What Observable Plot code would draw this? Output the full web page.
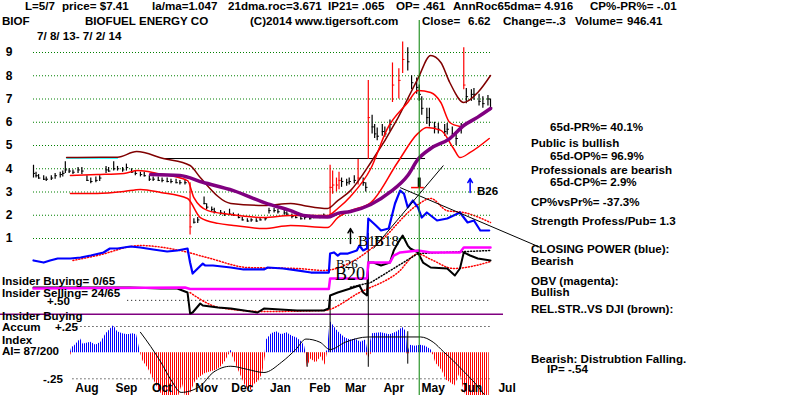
<!DOCTYPE html>
<html><head><meta charset="utf-8">
<script src="https://cdn.jsdelivr.net/npm/d3@7"></script>
<script src="https://cdn.jsdelivr.net/npm/@observablehq/plot@0.6"></script>
<style>
body{margin:0;background:#fff;}
#chart{position:relative;width:800px;height:395px;overflow:hidden;background:#fff;}
#chart svg{position:absolute;left:0;top:0;}
.t{position:absolute;font:bold 11.6px "Liberation Sans",Arial,sans-serif;line-height:12px;white-space:pre;color:#000;}
.s{position:absolute;font-family:"Liberation Serif","Times New Roman",serif;line-height:1;white-space:pre;color:#000;}
</style></head>
<body><div id="chart"></div>
<script>
// ---------- DATA ----------
const startDate = "2013-07-08", endDate = "2014-07-02";
const priceTicks = [1,2,3,4,5,6,7,8,9];
const monthNames = ["Aug","Sep","Oct","Nov","Dec","Jan","Feb","Mar","Apr","May","Jun","Jul"];
const monthLabelDates = ["2013-08-19","2013-09-19","2013-10-17","2013-11-21","2013-12-19","2014-01-18","2014-02-18","2014-03-18","2014-04-17","2014-05-18","2014-06-17","2014-07-15"];

// price bars: [date, low, high, close]
const bars = [
["2013-07-08",3.6,4.15,3.8],["2013-07-10",3.6,3.85,3.7],["2013-07-12",3.55,3.75,3.6],["2013-07-16",3.5,3.7,3.55],["2013-07-18",3.45,3.65,3.55],["2013-07-22",3.5,3.7,3.6],["2013-07-25",3.55,3.8,3.7],["2013-07-29",3.6,3.85,3.75],["2013-07-31",3.65,3.9,3.8],
["2013-08-02",3.8,4.3,3.95],["2013-08-05",3.8,4.0,3.9],["2013-08-08",3.75,3.95,3.85],["2013-08-12",3.8,4.05,3.95],["2013-08-15",3.75,4.05,3.9],["2013-08-19",3.45,3.7,3.5],["2013-08-22",3.35,3.6,3.45],["2013-08-26",3.4,3.65,3.5],["2013-08-29",3.45,3.7,3.6],
["2013-09-03",3.8,4.1,3.95],["2013-09-05",3.85,4.05,3.9],["2013-09-09",3.9,4.3,4.0],["2013-09-12",3.9,4.1,4.0],["2013-09-16",3.85,4.05,3.95],["2013-09-19",3.9,4.2,4.05],["2013-09-23",3.8,4.0,3.85],["2013-09-26",3.7,3.9,3.8],["2013-09-30",3.65,3.85,3.75],
["2013-10-03",3.65,3.85,3.7],["2013-10-07",3.45,3.7,3.55],["2013-10-10",3.45,3.65,3.55],["2013-10-14",3.45,3.65,3.5],["2013-10-17",3.4,3.6,3.5],["2013-10-21",3.4,3.6,3.45],["2013-10-24",3.35,3.55,3.45],["2013-10-28",3.35,3.55,3.4],["2013-10-31",3.3,3.5,3.4],
["2013-11-04",3.3,3.55,3.4],["2013-11-08",1.15,3.4,1.5],["2013-11-11",1.62,1.85,1.7],["2013-11-14",1.65,1.9,1.8],["2013-11-19",2.45,2.78,2.5],["2013-11-21",2.25,2.5,2.35],["2013-11-25",2.15,2.35,2.25],["2013-11-27",2.05,2.3,2.15],
["2013-12-02",2.0,2.2,2.1],["2013-12-05",1.95,2.15,2.05],["2013-12-09",1.98,2.26,2.05],["2013-12-12",1.95,2.1,2.0],["2013-12-16",1.85,2.05,1.9],["2013-12-19",1.75,1.9,1.8],["2013-12-23",1.7,1.85,1.75],["2013-12-26",1.7,1.85,1.8],["2013-12-30",1.7,1.85,1.75],
["2014-01-02",1.75,1.9,1.8],["2014-01-06",1.75,1.9,1.85],["2014-01-09",2.05,2.3,2.2],["2014-01-13",2.1,2.3,2.2],["2014-01-16",2.05,2.25,2.15],["2014-01-21",2.0,2.2,2.1],["2014-01-23",1.95,2.15,2.05],["2014-01-27",1.85,2.05,1.95],["2014-01-30",1.85,2.0,1.9],
["2014-02-03",1.8,1.95,1.85],["2014-02-06",1.8,1.95,1.9],["2014-02-10",1.8,1.95,1.85],["2014-02-13",1.85,2.0,1.9],["2014-02-18",1.85,2.0,1.95],["2014-02-21",1.9,2.05,2.0],["2014-02-26",2.0,4.15,3.2],["2014-02-28",2.9,3.9,3.3],
["2014-03-03",3.0,3.6,3.3],["2014-03-05",3.1,3.85,3.5],["2014-03-07",3.2,3.6,3.45],["2014-03-11",3.25,3.55,3.4],["2014-03-13",3.3,3.6,3.45],["2014-03-17",3.35,3.7,3.5],["2014-03-20",3.3,4.4,3.6],["2014-03-24",3.25,3.6,3.4],["2014-03-26",3.0,3.4,3.2],["2014-03-28",4.4,7.8,6.2],["2014-03-31",5.5,6.3,5.8],
["2014-04-02",5.3,5.9,5.5],["2014-04-04",5.2,5.75,5.4],["2014-04-08",5.4,5.9,5.6],["2014-04-10",5.35,5.8,5.5],["2014-04-14",5.6,6.1,5.9],["2014-04-16",6.85,8.55,7.6],["2014-04-21",7.0,8.3,7.8],["2014-04-24",8.1,9.45,8.7],["2014-04-28",8.2,9.2,8.6],
["2014-05-01",7.4,8.0,7.7],["2014-05-05",7.2,7.9,7.5],["2014-05-07",6.9,7.6,7.2],["2014-05-09",6.3,7.1,6.6],["2014-05-13",5.9,6.6,6.2],["2014-05-15",5.8,6.6,6.0],["2014-05-19",5.5,6.0,5.8],["2014-05-22",5.5,5.95,5.7],["2014-05-27",5.4,5.9,5.6],["2014-05-29",5.45,5.95,5.7],
["2014-06-02",5.3,5.8,5.5],["2014-06-05",5.0,5.6,5.3],["2014-06-09",5.5,5.95,5.8],["2014-06-11",7.4,9.2,7.6],["2014-06-13",6.8,7.45,7.1],["2014-06-17",6.9,7.4,7.2],["2014-06-19",6.95,7.45,7.2],["2014-06-23",6.7,7.2,6.9],["2014-06-26",6.6,7.1,6.8],["2014-06-30",6.7,7.15,7.0],["2014-07-02",6.5,7.0,6.62]
];

const ma65 = [["2013-10-08",3.75],["2013-10-31",3.71],["2013-11-18",3.42],["2013-12-12",3.06],["2014-01-08",2.49],["2014-01-26",2.2],["2014-02-05",1.99],["2014-02-24",1.92],["2014-03-04",2.08],["2014-03-14",2.16],["2014-03-30",2.46],["2014-04-14",2.99],["2014-04-28",3.71],["2014-05-06",4.4],["2014-05-16",4.87],["2014-05-31",5.3],["2014-06-11",5.86],["2014-06-22",6.22],["2014-07-02",6.59]];
const bandDark = [["2013-08-03",4.48],["2013-08-30",4.5],["2013-09-12",4.5],["2013-09-27",4.74],["2013-10-18",4.44],["2013-11-08",4.14],["2013-11-16",3.62],["2013-12-10",2.51],["2014-01-05",2.42],["2014-01-26",2.51],["2014-02-05",2.42],["2014-02-24",2.29],["2014-03-04",2.63],["2014-03-14",3.06],["2014-03-30",4.27],["2014-04-20",6.16],["2014-05-06",7.88],["2014-05-16",8.87],["2014-05-24",8.57],["2014-05-31",7.71],["2014-06-11",6.85],["2014-06-22",7.28],["2014-07-02",8.01]];
const bandUpper = [["2013-08-06",3.71],["2013-08-27",3.75],["2013-09-17",3.8],["2013-09-28",3.92],["2013-10-13",3.8],["2013-11-06",3.49],["2013-11-11",2.76],["2013-11-22",2.2],["2013-12-10",2.03],["2014-01-05",1.9],["2014-01-26",1.99],["2014-02-24",1.99],["2014-03-04",2.29],["2014-03-14",2.81],["2014-03-30",4.01],["2014-04-12",5.73],["2014-04-28",6.85],["2014-05-06",7.37],["2014-05-16",7.28],["2014-05-24",6.85],["2014-05-31",5.99],["2014-06-08",5.82]];
const bandLower = [["2013-08-06",2.94],["2013-08-27",2.94],["2013-09-17",3.02],["2013-09-30",3.11],["2013-10-16",2.98],["2013-11-06",2.72],["2013-11-16",1.9],["2013-11-30",1.65],["2013-12-12",1.56],["2014-01-05",1.43],["2014-01-26",1.56],["2014-02-24",1.47],["2014-03-04",1.9],["2014-03-14",2.2],["2014-03-30",2.55],["2014-04-20",4.27],["2014-05-06",5.52],["2014-05-13",5.77],["2014-05-24",5.65],["2014-06-03",4.87],["2014-06-08",4.48],["2014-06-16",4.7],["2014-07-01",5.3]];
const cyanSeg = [["2013-08-03",4.45],["2013-09-12",4.45]];
const resistance = [{from:"2013-10-18", to:"2014-05-12", v:4.44}];
const trendLines = [{a:"2014-04-22", va:3.19, b:"2014-08-10", vb:0.62},{a:"2014-04-01", va:0.57, b:"2014-05-26", vb:4.14}];
const markerDate = ["2014-05-07"];
const markerBar = [{d:"2014-05-07", lo:3.15, hi:3.6}];
const markerTick = [{from:"2014-05-01", to:"2014-05-11", v:3.19}];
const blueSignals = [{d:"2014-06-16", from:2.98, to:3.58}];
const blackSignals = [{d:"2014-03-14", from:0.78, to:1.43}];

// indicator panel (arbitrary index units)
const closingPower = [["2013-07-08",66.7],["2013-07-16",64.4],["2013-07-21",66.7],["2013-07-27",68.9],["2013-08-06",68.9],["2013-08-14",70],["2013-08-22",72.2],["2013-09-01",75.6],["2013-09-06",80],["2013-09-12",80],["2013-09-22",82.2],["2013-09-30",81.1],["2013-10-10",78.9],["2013-10-21",76.7],["2013-10-29",77.8],["2013-11-06",80],["2013-11-08",64.4],["2013-11-10",52.2],["2013-11-14",57.8],["2013-11-18",63.3],["2013-11-20",61.1],["2013-11-26",61.1],["2013-12-10",58.9],["2013-12-20",56.7],["2014-01-05",56.7],["2014-01-08",58.9],["2014-01-20",57.8],["2014-01-31",55.6],["2014-02-11",53.3],["2014-02-25",53.3],["2014-02-26",74.4],["2014-03-01",75.6],["2014-03-04",72.2],["2014-03-06",74.4],["2014-03-12",74.4],["2014-03-19",77.8],["2014-03-21",83.3],["2014-03-24",77.8],["2014-03-27",80],["2014-03-28",113.3],["2014-04-03",105.6],["2014-04-07",100],["2014-04-13",102.2],["2014-04-18",130],["2014-04-22",144.4],["2014-04-25",141.1],["2014-04-28",125.6],["2014-05-02",133.3],["2014-05-06",125.6],["2014-05-09",114.4],["2014-05-13",120],["2014-05-21",111.1],["2014-05-29",113.3],["2014-06-08",120],["2014-06-14",108.9],["2014-06-19",111.1],["2014-06-24",100],["2014-07-01",100]];
const closingPowerMA = [["2013-08-08",66.7],["2013-08-27",72.2],["2013-09-30",83.3],["2013-10-31",77.8],["2013-11-24",68.9],["2013-12-23",58.9],["2014-01-31",57.8],["2014-02-21",55.6],["2014-03-14",64.4],["2014-04-07",88.9],["2014-05-05",127.8],["2014-05-16",135.6],["2014-05-29",122],["2014-06-11",120],["2014-07-02",108.9]];
const obv = [["2013-07-08",35.6],["2013-11-04",36.7],["2013-11-08",35],["2014-02-25",35],["2014-02-26",46.7],["2014-03-27",46.7],["2014-03-28",64.4],["2014-04-14",64.4],["2014-04-17",72.2],["2014-04-22",75.6],["2014-05-06",77.8],["2014-05-16",75.6],["2014-06-08",75.6],["2014-06-11",81.1],["2014-07-02",81.1]];
const relStrength = [["2013-07-08",36.7],["2013-09-22",36.7],["2013-10-16",35.6],["2013-10-29",35.6],["2013-11-06",31.1],["2013-11-08",7.8],["2013-11-10",8.9],["2013-11-16",18.9],["2013-11-18",16.7],["2013-11-30",14.4],["2013-12-10",13.3],["2013-12-31",8.9],["2014-01-05",13.3],["2014-01-31",11.1],["2014-02-21",11.1],["2014-02-25",13.3],["2014-02-26",27.8],["2014-03-04",31.1],["2014-03-14",35.6],["2014-03-21",38.9],["2014-03-24",31.1],["2014-03-27",27.8],["2014-03-28",64.4],["2014-04-01",64.4],["2014-04-07",61.1],["2014-04-14",64.4],["2014-04-17",77.8],["2014-04-20",85.6],["2014-04-24",94.4],["2014-04-28",83.3],["2014-04-30",80],["2014-05-06",75.6],["2014-05-10",64.4],["2014-05-16",58.9],["2014-05-29",57.8],["2014-06-04",50],["2014-06-08",57.8],["2014-06-11",75.6],["2014-06-16",72.2],["2014-06-22",68.9],["2014-07-02",66.7]];
const relStrengthMA = [["2013-11-08",31],["2013-12-01",14.4],["2014-01-05",10],["2014-02-21",11.1],["2014-03-21",31],["2014-04-20",53],["2014-05-06",74],["2014-05-16",68],["2014-06-03",57.8],["2014-07-02",65.5]];
const obvTrend = [["2014-03-14",37],["2014-03-30",42.2],["2014-05-06",74.4],["2014-07-02",77.8]];

// Accumulation index
const insiderLevel = [0.368];
const aiRefLines = [{v:0.5, from:"2013-09-20"},{v:0.25, from:"2013-08-08"},{v:-0.25, from:"2013-08-08"}];
const accum = [["2013-08-06",-0.03],["2013-08-07",0.05],["2013-08-09",0.06],["2013-08-14",0.13],["2013-08-16",0.08],["2013-08-22",0.1],["2013-08-26",0.07],["2013-08-30",0.1],["2013-09-03",0.18],["2013-09-06",0.22],["2013-09-09",0.26],["2013-09-12",0.2],["2013-09-16",0.18],["2013-09-20",0.17],["2013-09-24",0.18],["2013-09-27",0.17],["2013-09-30",0.0],["2013-10-02",-0.08],["2013-10-06",-0.15],["2013-10-10",-0.25],["2013-10-15",-0.37],["2013-10-20",-0.45],["2013-10-25",-0.5],["2013-10-30",-0.42],["2013-11-02",-0.3],["2013-11-05",-0.45],["2013-11-08",-0.4],["2013-11-12",-0.28],["2013-11-15",-0.24],["2013-11-20",-0.2],["2013-11-25",-0.18],["2013-11-28",-0.17],["2013-12-02",-0.14],["2013-12-06",-0.08],["2013-12-08",-0.03],["2013-12-10",0.02],["2013-12-12",-0.05],["2013-12-15",-0.14],["2013-12-19",-0.25],["2013-12-22",-0.33],["2013-12-26",-0.36],["2013-12-29",-0.3],["2014-01-01",-0.27],["2014-01-04",-0.2],["2014-01-06",-0.05],["2014-01-07",0.12],["2014-01-11",0.18],["2014-01-15",0.2],["2014-01-19",0.17],["2014-01-23",0.19],["2014-01-27",0.16],["2014-01-31",0.14],["2014-02-04",0.1],["2014-02-06",0.06],["2014-02-07",-0.02],["2014-02-08",-0.14],["2014-02-11",-0.06],["2014-02-15",-0.1],["2014-02-19",-0.04],["2014-02-22",-0.12],["2014-02-24",0.02],["2014-02-26",0.3],["2014-02-28",0.27],["2014-03-03",0.22],["2014-03-06",0.18],["2014-03-10",0.14],["2014-03-14",0.12],["2014-03-18",0.13],["2014-03-22",0.1],["2014-03-26",0.12],["2014-03-28",-0.05],["2014-03-31",0.18],["2014-04-07",0.19],["2014-04-14",0.17],["2014-04-20",0.2],["2014-04-24",0.24],["2014-04-27",0.2],["2014-04-28",-0.02],["2014-04-30",0.07],["2014-05-04",0.06],["2014-05-08",0.07],["2014-05-12",0.06],["2014-05-16",0.03],["2014-05-18",-0.02],["2014-05-20",-0.1],["2014-05-25",-0.17],["2014-05-28",-0.26],["2014-06-01",-0.29],["2014-06-04",-0.32],["2014-06-08",-0.2],["2014-06-11",-0.35],["2014-06-15",-0.5],["2014-07-01",-0.5]];
const accumMA = [["2013-09-30",0.195],["2013-10-08",0.06],["2013-10-16",-0.09],["2013-10-24",-0.26],["2013-11-01",-0.38],["2013-11-16",-0.32],["2013-11-26",-0.19],["2013-12-10",-0.13],["2013-12-23",-0.16],["2014-01-05",-0.19],["2014-01-19",-0.09],["2014-01-30",0.03],["2014-02-07",0.13],["2014-02-18",0.1],["2014-02-26",0.03],["2014-03-10",0.1],["2014-03-28",0.15],["2014-04-27",0.15],["2014-05-08",0.15],["2014-05-18",0.1],["2014-05-26",0.01],["2014-06-03",-0.08],["2014-06-11",-0.18],["2014-06-19",-0.28],["2014-06-27",-0.4]];
const accumSpikes = [{d:"2014-02-26", lo:0, hi:0.54},{d:"2014-03-28", lo:-0.14, hi:1.14},{d:"2014-04-28", lo:-0.11, hi:0.2},{d:"2014-02-08", lo:-0.14, hi:0}];

// ---------- BUILD ----------
const parse = d3.utcParse("%Y-%m-%d");
const X = {type:"utc", domain:[parse(startDate), parse(endDate)], range:[33,490], axis:null};
const ser = a => a.map(([d,v]) => ({date: parse(d), v}));
const barRows = bars.map(([d,lo,hi,c]) => ({date: parse(d), lo, hi, c}));
const barColor = r => (r.hi / r.lo > 1.16 ? "#ff0000" : "#000000");
const svgStyle = {background:"transparent", overflow:"visible", font:"bold 12px 'Liberation Sans', Arial, sans-serif"};
const chart = document.getElementById("chart");

// AI panel (bottom layer)
const aiPlot = Plot.plot({
  width:800, height:395, marginTop:0, marginBottom:0, marginLeft:0, marginRight:297,
  x: X, y:{domain:[-0.25,0.25], range:[378.3,326], axis:null},
  color:{type:"identity"}, style: svgStyle,
  marks:[
    Plot.ruleY(insiderLevel, {stroke:"#800080", strokeWidth:1.5}),
    Plot.ruleY(aiRefLines, {y:"v", x1:d=>parse(d.from), x2:()=>parse(endDate), stroke:"#000", strokeDasharray:"1,3"}),
    Plot.areaY(ser(accum), {x:"date", y1:0, y2:d=>Math.max(0,d.v), fill:"url(#aiBlue)"}),
    Plot.areaY(ser(accum), {x:"date", y1:0, y2:d=>Math.min(0,d.v), fill:"url(#aiRed)"}),
    Plot.ruleX(accumSpikes, {x:d=>parse(d.d), y1:"lo", y2:"hi", stroke:"#000"}),
    Plot.line(ser(accumMA), {x:"date", y:"v", stroke:"#000", strokeWidth:1, curve:"monotone-x"}),
    Plot.text(monthNames, {x:(d,i)=>parse(monthLabelDates[i]), text:d=>d, frameAnchor:"bottom", lineAnchor:"bottom", dy:-4, fontSize:12, fontWeight:"bold"})
  ]
});
const ns = "http://www.w3.org/2000/svg";
const defs = document.createElementNS(ns, "defs");
defs.innerHTML = '<pattern id="aiBlue" patternUnits="userSpaceOnUse" width="2" height="4"><rect width="1" height="4" fill="#0000ff"/></pattern>' +
                 '<pattern id="aiRed" patternUnits="userSpaceOnUse" width="2" height="4"><rect width="1" height="4" fill="#ff0000"/></pattern>';
aiPlot.insertBefore(defs, aiPlot.firstChild);
chart.appendChild(aiPlot);

// Indicator panel
const indPlot = Plot.plot({
  width:800, height:395, margin:0,
  x: X, y:{domain:[0,100], range:[320,230], axis:null},
  style: svgStyle,
  marks:[
    Plot.line(ser(closingPowerMA), {x:"date", y:"v", stroke:"#ff0000", strokeDasharray:"1,2", curve:"monotone-x"}),
    Plot.line(ser(relStrengthMA), {x:"date", y:"v", stroke:"#ff0000", strokeDasharray:"1,2", curve:"monotone-x"}),
    Plot.line(ser(obvTrend), {x:"date", y:"v", stroke:"#000", strokeDasharray:"1,2"}),
    Plot.line(ser(relStrength), {x:"date", y:"v", stroke:"#000", strokeWidth:2}),
    Plot.line(ser(obv), {x:"date", y:"v", stroke:"#ff00ff", strokeWidth:2.5}),
    Plot.line(ser(closingPower), {x:"date", y:"v", stroke:"#0000ff", strokeWidth:2.2})
  ]
});
chart.appendChild(indPlot);

// Price panel (top layer)
const pricePlot = Plot.plot({
  width:800, height:395, marginTop:20, marginBottom:0, marginLeft:33, marginRight:310,
  x: X, y:{domain:[1,9], range:[238,52], axis:null},
  color:{type:"identity"}, style: svgStyle,
  marks:[
    Plot.ruleY(priceTicks, {stroke:"#008000", strokeDasharray:"1,2"}),
    Plot.text(priceTicks, {y:d=>d, text:d=>String(d), frameAnchor:"left", dx:-21, textAnchor:"end", fontSize:12, fontWeight:"bold"}),
    Plot.ruleY(resistance, {y:"v", x1:d=>parse(d.from), x2:d=>parse(d.to), stroke:"#000"}),
    Plot.line(ser(cyanSeg), {x:"date", y:"v", stroke:"#00ffff", strokeWidth:1}),
    Plot.ruleX(barRows, {x:"date", y1:"lo", y2:"hi", stroke:barColor, strokeWidth:1.2}),
    Plot.ruleY(barRows, {y:"c", x1:"date", x2:d=>new Date(+d.date + 1.8*864e5), stroke:barColor}),
    Plot.line(ser(bandDark), {x:"date", y:"v", stroke:"#800000", curve:"monotone-x"}),
    Plot.line(ser(bandUpper), {x:"date", y:"v", stroke:"#ff0000", curve:"monotone-x"}),
    Plot.line(ser(bandLower), {x:"date", y:"v", stroke:"#ff0000", curve:"monotone-x"}),
    Plot.line(ser(ma65), {x:"date", y:"v", stroke:"#800080", strokeWidth:3.5, curve:"monotone-x"}),
    Plot.link(trendLines, {x1:d=>parse(d.a), y1:"va", x2:d=>parse(d.b), y2:"vb", stroke:"#000"}),
    Plot.ruleX(markerBar, {x:d=>parse(d.d), y1:"lo", y2:"hi", stroke:"#000", strokeWidth:3}),
    Plot.ruleY(markerTick, {y:"v", x1:d=>parse(d.from), x2:d=>parse(d.to), stroke:"#ff0000", strokeWidth:1.5}),
    Plot.ruleX(markerDate, {x:d=>parse(d), stroke:"#008000"}),
    Plot.arrow(blueSignals, {x1:d=>parse(d.d), x2:d=>parse(d.d), y1:"from", y2:"to", stroke:"#0000ff", headLength:5}),
    Plot.arrow(blackSignals, {x1:d=>parse(d.d), x2:d=>parse(d.d), y1:"from", y2:"to", stroke:"#000", headLength:5})
  ]
});
chart.appendChild(pricePlot);

// ---------- TEXT ----------
const sansLabels = [
 ["L=5/7",25,2],["price= $7.41",62,2],["la/ma=1.047",152,2],["21dma.roc=3.671",228,2],["IP21= .065",328,2],["OP= .461",396,2],["AnnRoc65dma= 4.916",453,2],["CP%-PR%= -.01",590,2],
 ["BIOF",2,17],["BIOFUEL ENERGY CO",85,17],["(C)2014 www.tigersoft.com",250,17],["Close=",422,17],["6.62",468,17],["Change=-.3",503,17],["Volume=",575,17],["946.41",627,17],
 ["7/ 8/ 13- 7/ 2/ 14",37,32],
 ["65d-PR%= 40.1%",550,123],["Public is bullish",531,139],["65d-OP%= 96.9%",550,152],["Professionals are bearish",531,166],["65d-CP%= 2.9%",550,178],["CP%vsPr%= -37.3%",531,198],["Strength Profess/Pub= 1.3",531,217],
 ["CLOSING POWER (blue):",531,245],["Bearish",531,257],["OBV (magenta):",531,277],["Bullish",531,288],["REL.STR..VS DJI (brown):",531,305],["Bearish: Distrubtion Falling.",531,355],["IP= -.54",547,365],
 ["Insider Buying= 0/65",2,277],["Insider Selling= 24/65",2,289],["+.50",47,297],["Insider Buying",2,312],["Accum",2,323],["+.25",55,323],["Index",2,336],["AI= 87/200",2,347],["-.25",43,375],
 ["B26",477,187]
];
const serifLabels = [["B18",374,237,15],["B16",358,237,15],["B26",336,259,13],["B20",335,268,18]];
for (const [t,x,cap] of sansLabels) {
  const el = document.createElement("div"); el.className = "t"; el.textContent = t;
  el.style.left = x + "px"; el.style.top = (cap - 1.6) + "px"; chart.appendChild(el);
}
for (const [t,x,cap,fs] of serifLabels) {
  const el = document.createElement("div"); el.className = "s"; el.textContent = t;
  el.style.fontSize = fs + "px"; el.style.left = x + "px"; el.style.top = (cap - 0.18*fs) + "px"; chart.appendChild(el);
}
</script></body></html>
